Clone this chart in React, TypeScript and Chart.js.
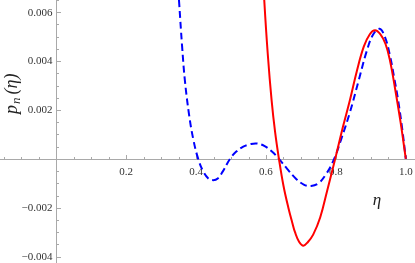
import React, { useEffect, useRef } from "react";
import { Chart, registerables } from "chart.js";

Chart.register(...registerables);

// Data
const redX = [0.585, 0.595, 0.605, 0.616, 0.626, 0.637, 0.65, 0.664, 0.675, 0.683, 0.695, 0.707, 0.72, 0.735, 0.755, 0.775, 0.798, 0.82, 0.84, 0.86, 0.88, 0.897, 0.912, 0.927, 0.942, 0.955, 0.969, 0.985, 1.0];
const redY = [0.0092, 0.0065, 0.0043, 0.0024, 0.0011, 0.0, -0.0011, -0.002, -0.0026, -0.003, -0.0034, -0.00355, -0.0034, -0.0031, -0.0024, -0.0013, 0.0, 0.0013, 0.0024, 0.0036, 0.0046, 0.0051, 0.00526, 0.0051, 0.0047, 0.004, 0.0029, 0.0015, 0.0];

const blueX = [0.338, 0.351, 0.36, 0.368, 0.38, 0.392, 0.406, 0.42, 0.435, 0.449, 0.462, 0.477, 0.497, 0.515, 0.535, 0.555, 0.573, 0.595, 0.617, 0.637, 0.66, 0.685, 0.708, 0.729, 0.75, 0.773, 0.795, 0.815, 0.84, 0.865, 0.888, 0.907, 0.925, 0.94, 0.955, 0.967, 0.978, 0.99, 1.0];
const blueY = [0.0092, 0.0065, 0.0046, 0.0032, 0.0018, 0.0008, 0.0, -0.0005, -0.0008, -0.00087, -0.0008, -0.0005, 0.0, 0.0003, 0.0005, 0.0006, 0.00063, 0.00053, 0.0003, 0.0, -0.0004, -0.0008, -0.00105, -0.00111, -0.001, -0.0006, 0.0, 0.0008, 0.0019, 0.0032, 0.0044, 0.0051, 0.00532, 0.005, 0.0042, 0.0033, 0.0024, 0.0012, 0.0];

const xTickValues = [0.2, 0.4, 0.6, 0.8, 1.0];
const xTickLabels = ["0.2", "0.4", "0.6", "0.8", "1.0"];
const yTickValues = [-0.004, -0.002, 0.002, 0.004, 0.006];
const yTickLabels = ["\u22120.004", "\u22120.002", "0.002", "0.004", "0.006"];

const X_MIN = -0.161;
const X_MAX = 1.0263;
const Y_MIN = -0.00426;
const Y_MAX = 0.0065;
const X_MINOR = 0.05;
const Y_MINOR = 0.0005;

const AXIS_COLOR = "#a9a9a9";
const LABEL_COLOR = "#333333";
const SERIF = "'Liberation Serif', 'DejaVu Serif', serif";

const axesPlugin = {
  id: "mathAxes",
  beforeDatasetsDraw(chart: any) {
    const { ctx, chartArea, scales } = chart;
    const xs = scales.x;
    const ys = scales.y;
    const x0 = Math.round(xs.getPixelForValue(0)) + 0.5;
    const y0 = Math.round(ys.getPixelForValue(0)) + 0.5;
    ctx.save();
    ctx.strokeStyle = AXIS_COLOR;
    ctx.lineWidth = 1;
    ctx.beginPath();
    ctx.moveTo(chartArea.left, y0);
    ctx.lineTo(chartArea.right, y0);
    ctx.moveTo(x0, chartArea.top);
    ctx.lineTo(x0, chartArea.bottom);
    // x ticks (pointing up)
    for (let i = Math.ceil(X_MIN / X_MINOR); i <= Math.floor(X_MAX / X_MINOR); i++) {
      if (i === 0) continue;
      const px = Math.round(xs.getPixelForValue(i * X_MINOR)) + 0.5;
      const len = i % 4 === 0 ? 4.5 : 2.5;
      ctx.moveTo(px, y0);
      ctx.lineTo(px, y0 - len);
    }
    // y ticks (pointing right)
    for (let i = Math.ceil(Y_MIN / Y_MINOR - 1e-6); i <= Math.floor(Y_MAX / Y_MINOR + 1e-6); i++) {
      if (i === 0) continue;
      const py = Math.round(ys.getPixelForValue(i * Y_MINOR)) + 0.5;
      const len = i % 4 === 0 ? 4.5 : 2.5;
      ctx.moveTo(x0, py);
      ctx.lineTo(x0 + len, py);
    }
    ctx.stroke();

    // tick labels
    ctx.fillStyle = LABEL_COLOR;
    ctx.font = `11px ${SERIF}`;
    ctx.textAlign = "center";
    ctx.textBaseline = "alphabetic";
    xTickValues.forEach((v, i) => {
      ctx.fillText(xTickLabels[i], xs.getPixelForValue(v), y0 + 15);
    });
    ctx.textAlign = "right";
    ctx.textBaseline = "middle";
    yTickValues.forEach((v, i) => {
      ctx.fillText(yTickLabels[i], x0 - 4, ys.getPixelForValue(v) + 0.5);
    });

    // axis titles
    ctx.fillStyle = "#222222";
    ctx.font = `italic 17px ${SERIF}`;
    ctx.textAlign = "center";
    ctx.textBaseline = "alphabetic";
    ctx.fillText("\u03B7", 377, 205);

    ctx.translate(17, 114);
    ctx.rotate(-Math.PI / 2);
    ctx.textAlign = "left";
    ctx.font = `italic 18px ${SERIF}`;
    ctx.fillText("p", 0, 0);
    let w = ctx.measureText("p").width + 1;
    ctx.font = `italic 13px ${SERIF}`;
    ctx.fillText("n", w, 3);
    w += ctx.measureText("n").width + 3;
    ctx.font = `italic 18px ${SERIF}`;
    ctx.fillText("(\u03B7)", w, 0);
    ctx.restore();
  },
};

export default function App() {
  const canvasRef = useRef<HTMLCanvasElement | null>(null);

  useEffect(() => {
    const canvas = canvasRef.current;
    if (!canvas) return;
    const chart = new Chart(canvas, {
      type: "scatter",
      data: {
        datasets: [
          {
            label: "red",
            data: redX.map((x, i) => ({ x, y: redY[i] })),
            showLine: true,
            borderColor: "#ff0000",
            borderWidth: 2,
            pointRadius: 0,
            tension: 0.4,
            fill: false,
          },
          {
            label: "blue",
            data: blueX.map((x, i) => ({ x, y: blueY[i] })),
            showLine: true,
            borderColor: "#0000ff",
            borderWidth: 2,
            borderDash: [7, 4],
            pointRadius: 0,
            tension: 0.4,
            fill: false,
          },
        ],
      },
      options: {
        responsive: false,
        animation: false,
        layout: { padding: 0 },
        plugins: { legend: { display: false }, tooltip: { enabled: false } },
        scales: {
          x: { type: "linear", min: X_MIN, max: X_MAX, display: false },
          y: { type: "linear", min: Y_MIN, max: Y_MAX, display: false },
        },
      },
      plugins: [axesPlugin],
    });
    return () => chart.destroy();
  }, []);

  return (
    <div style={{ position: "fixed", left: 0, top: 0, width: 415, height: 263, background: "#ffffff" }}>
      <canvas ref={canvasRef} width={415} height={263} style={{ display: "block" }} />
    </div>
  );
}
